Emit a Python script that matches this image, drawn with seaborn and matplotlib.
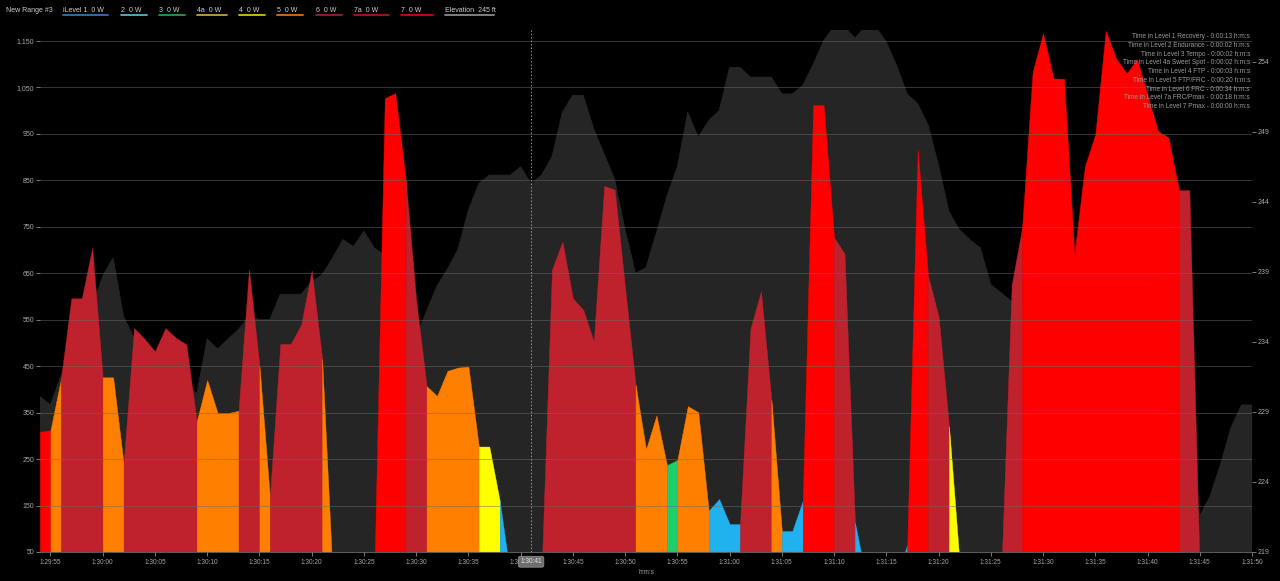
import matplotlib
matplotlib.use("Agg")
import matplotlib.pyplot as plt
from matplotlib.lines import Line2D
import numpy as np
import pandas as pd
import seaborn as sns

# ---- data (one sample per second, starting at 1:29:54) ----
start_sec = 5394

power = [309, 312, 422, 596, 596, 705, 426, 426, 240, 532,
         509, 482, 532, 511, 497, 331, 420, 349, 349, 354,
         658, 451, 168, 498, 498, 540, 656, 466, 0, 0,
         0, 0, 0, 1027, 1038, 851, 592, 407, 386, 440,
         447, 449, 277, 277, 160, 0, 0, 0, 0, 658,
         718, 596, 571, 503, 838, 830, 618, 410, 271, 344,
         237, 248, 364, 351, 139, 164, 110, 110, 531, 611,
         378, 95, 95, 160, 1012, 1012, 727, 692, 113, 0,
         0, 0, 0, 65, 916, 644, 557, 320, 30, 0,
         0, 0, 0, 625, 749, 1083, 1167, 1069, 1069, 691,
         880, 949, 1172, 1112, 1080, 1111, 1033, 956, 942, 829,
         829, 0, 0, 0, 0, 0, 0]

elevation = [230.1, 229.5, 231.6, 233.4, 235.0, 236.5, 238.7, 240.0, 235.8, 234.3,
             233.6, 233.0, 232.3, 231.8, 231.1, 230.3, 234.2, 233.5, 234.2, 234.9,
             235.8, 235.6, 235.6, 237.4, 237.4, 237.4, 238.3, 238.8, 240.0, 241.3,
             240.8, 241.9, 240.7, 240.2, 239.0, 237.0, 234.4, 236.2, 238.0, 239.2,
             240.6, 243.4, 245.3, 245.9, 245.9, 245.9, 246.5, 245.3, 245.9, 247.2,
             250.4, 251.6, 251.6, 249.2, 247.4, 245.6, 242.0, 238.9, 239.3, 241.8,
             244.4, 246.5, 250.4, 248.6, 249.8, 250.5, 253.6, 253.6, 252.9, 252.9,
             252.9, 251.7, 251.7, 252.3, 253.8, 255.5, 256.5, 256.5, 255.7, 256.5,
             256.5, 255.4, 253.7, 251.7, 251.0, 249.5, 246.6, 243.3, 242.0, 241.3,
             240.7, 238.1, 237.5, 236.9, 236.3, 235.3, 234.7, 233.6, 233.1, 232.0,
             231.5, 230.4, 229.9, 228.8, 228.3, 227.2, 226.7, 225.6, 225.1, 223.9,
             223.2, 221.6, 223.0, 225.3, 227.9, 229.5, 229.5]

# zone of each one-second segment (power[i] -> power[i+1])
zone = (['7a'] + ['5'] + ['6'] * 4 + ['5'] * 2 + ['6'] * 7 + ['5'] * 4 + ['6'] * 2
        + ['5'] + ['6'] * 5 + ['5'] + ['-'] * 4 + ['7a'] * 3 + ['6'] * 2 + ['5'] * 5
        + ['4'] * 2 + ['1'] + ['-'] * 3 + ['6'] * 9 + ['5'] * 3 + ['3'] + ['5'] * 3
        + ['1'] * 3 + ['6'] * 3 + ['5'] + ['1'] * 2 + ['7a'] * 3 + ['6'] * 2 + ['1']
        + ['-'] * 3 + ['1'] + ['7a'] * 2 + ['6'] * 2 + ['4'] + ['-'] * 4 + ['6'] * 2
        + ['7a'] * 15 + ['6'] * 2 + ['-'] * 5)

zone_colors = {'1': '#20b2ee', '3': '#20cc6e', '4': '#ffff00',
               '5': '#ff8000', '6': '#c0222d', '7a': '#ff0000'}

legend_labels = ['iLevel 1  0 W', '2  0 W', '3  0 W', '4a  0 W', '4  0 W',
                 '5  0 W', '6  0 W', '7a  0 W', '7  0 W', 'Elevation  245 ft']
legend_colors = ['#2a78b8', '#52b8c4', '#1f9e4c', '#c4a040', '#d0c800',
                 '#dc7010', '#a01e2c', '#b41020', '#dc0000', '#8a8a8a']

level_times = ['Time in Level 1 Recovery - 0:00:13 h:m:s',
               'Time in Level 2 Endurance - 0:00:02 h:m:s',
               'Time in Level 3 Tempo - 0:00:02 h:m:s',
               'Time in Level 4a Sweet Spot - 0:00:02 h:m:s',
               'Time in Level 4 FTP - 0:00:03 h:m:s',
               'Time in Level 5 FTP/FRC - 0:00:20 h:m:s',
               'Time in Level 6 FRC - 0:00:34 h:m:s',
               'Time in Level 7a FRC/Pmax - 0:00:18 h:m:s',
               'Time in Level 7 Pmax - 0:00:00 h:m:s']

power_ticks = list(range(50, 1151, 100))
elev_ticks = list(range(219, 255, 5))
cursor_sec = 5441

df = pd.DataFrame({'t': np.arange(len(power)) + start_sec,
                   'power': power, 'elevation': elevation})


def hms(s):
    return f"{s // 3600}:{(s % 3600) // 60:02d}:{s % 60:02d}"


# ---- style ----
sns.set_theme(style="dark", rc={'axes.facecolor': 'black', 'figure.facecolor': 'black'})
plt.rcParams['font.family'] = ['Liberation Sans', 'DejaVu Sans']

W, H = 1280, 581
fig = plt.figure(figsize=(W / 100, H / 100), dpi=100)
ax2 = fig.add_axes([40 / W, 29 / H, 1212 / W, 522.5 / H])
ax = ax2.twinx()
ax.yaxis.tick_left()
ax2.yaxis.tick_right()
ax.set_zorder(2)
ax2.set_zorder(1)
ax.patch.set_visible(False)
ax2.set_facecolor('black')
ax.xaxis.set_visible(True)

# elevation (background)
ax2.fill_between(df['t'], 200, df['elevation'], color='#252525', lw=0)
sns.lineplot(data=df, x='t', y='elevation', ax=ax2, color='#252525', lw=0.6)
ax2.set_ylim(219, 256.3)

# power, filled per zone run
i = 0
n = len(zone)
while i < n:
    j = i
    while j + 1 < n and zone[j + 1] == zone[i]:
        j += 1
    if zone[i] in zone_colors:
        c = zone_colors[zone[i]]
        seg = df.iloc[i:j + 2]
        ax.fill_between(seg['t'], 0, seg['power'], color=c, ec=c, lw=0.3)
    i = j + 1

ax.set_ylim(50, 1174.8)
ax.set_xlim(start_sec, start_sec + 116)
ax2.set_xlim(start_sec, start_sec + 116)

# axes / ticks
tick_c = '#8c8c8c'
lab_c = '#a8a8a8'
ax.set_yticks(power_ticks)
ax.set_yticklabels([f"{v:,}" for v in power_ticks])
ax.tick_params(axis='y', which='both', left=True, right=False, length=3, width=0.6,
               color=tick_c, labelcolor=lab_c, labelsize=5, pad=1)
ax2.set_yticks(elev_ticks)
ax2.set_yticklabels([str(v) for v in elev_ticks])
ax2.tick_params(axis='y', length=3, width=0.6, color=tick_c, labelcolor=lab_c,
                labelsize=5, pad=1)
xt = list(range(start_sec + 1, start_sec + 117, 5))
ax.set_xticks(xt)
ax.set_xticklabels([hms(s) for s in xt])
ax.tick_params(axis='x', length=3, width=0.6, color=tick_c, labelcolor=lab_c,
               labelsize=4.7, pad=2, bottom=True, labelbottom=True)
ax2.tick_params(axis='x', bottom=False, labelbottom=False)
ax2.set_xlabel('')
ax2.set_ylabel('')
ax.set_xlabel('h:m:s', color=lab_c, fontsize=4.7, labelpad=2)
ax.set_ylabel('')

ax.yaxis.grid(True, color='#6a6a6a', lw=0.7, alpha=0.5)
ax.xaxis.grid(False)
ax2.grid(False)
ax.set_axisbelow(False)
for a in (ax, ax2):
    for s in a.spines.values():
        s.set_visible(False)
ax.spines['bottom'].set_visible(True)
ax.spines['bottom'].set_color('#5a5a5a')
ax.spines['bottom'].set_linewidth(0.8)

# cursor
ax.axvline(cursor_sec, color='#9a9a9a', ls=(0, (1.5, 2)), lw=0.7, zorder=5)
ax.annotate(hms(cursor_sec), xy=(cursor_sec, 0), xycoords=('data', 'axes fraction'),
            xytext=(0, -7), textcoords='offset points', ha='center', va='center',
            fontsize=4.7, color='#e6e6e6', zorder=10,
            bbox=dict(boxstyle='round,pad=0.3', fc='#6e6e6e', ec='#9a9a9a', lw=0.5))

# top legend row
fig.text(6 / W, 1 - 11 / H, 'New Range #3', color='#cfcfcf', fontsize=5, va='center')
starts = [63, 121, 159, 197, 239, 277, 316, 354, 401, 445]
ends = [108, 147, 185, 227, 265, 303, 342, 389, 433, 494]
for lab, c, x0, x1 in zip(legend_labels, legend_colors, starts, ends):
    fig.text(x0 / W, 1 - 10.5 / H, lab, color='#cfcfcf', fontsize=5, va='center')
    fig.add_artist(Line2D([x0 / W, x1 / W], [1 - 15 / H] * 2, color=c, lw=1.3))

# time-in-level block
for k, line in enumerate(level_times):
    fig.text(1250 / W, 1 - (36.7 + 8.75 * k) / H, line, color='#9c9c9c',
             fontsize=4.7, ha='right', va='center')

fig.savefig('out.png', dpi=100, facecolor='black')
